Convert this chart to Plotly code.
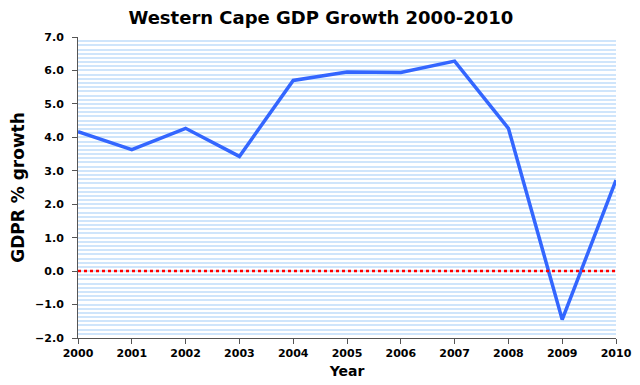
import plotly.graph_objects as go

years = [2000, 2001, 2002, 2003, 2004, 2005, 2006, 2007, 2008, 2009, 2010]
growth = [4.17, 3.63, 4.27, 3.43, 5.70, 5.95, 5.94, 6.28, 4.27, -1.45, 2.72]

font = "DejaVu Sans"

fig = go.Figure()
fig.add_trace(go.Scatter(x=years, y=growth, mode="lines",
                         line=dict(color="#3366ff", width=3.5), showlegend=False, hoverinfo="x+y"))

fig.add_shape(type="line", xref="paper", yref="y", x0=0, x1=1, y0=0, y1=0,
              line=dict(color="#ff0000", width=2.5, dash="dot"))

# page body has an 8px margin, so the figure is sized and offset accordingly
fig.update_layout(
    width=632, height=377,
    margin=dict(l=70, r=24, t=29, b=47, autoexpand=False),
    paper_bgcolor="white", plot_bgcolor="white",
    title=dict(text="<b>Western Cape GDP Growth 2000-2010</b>", x=0.495, xanchor="center",
               xref="container", y=0.992, yref="container", yanchor="top",
               font=dict(family=font, size=18, color="black")),
    font=dict(family=font, color="black"),
)
fig.update_xaxes(range=[2000, 2010], tickmode="linear", tick0=2000, dtick=1, automargin=False,
                 showgrid=False, showline=True, linecolor="#555555", linewidth=1,
                 ticks="outside", ticklen=5, tickcolor="#555555",
                 tickfont=dict(family=font, size=11, color="black", weight="bold"),
                 title=dict(text="<b>Year</b>", font=dict(family=font, size=14), standoff=6),
                 minor=dict(dtick=0.2, showgrid=True, gridcolor="rgba(255,255,255,0.6)", gridwidth=1),
                 zeroline=False)
fig.update_yaxes(range=[-2, 7], tickmode="linear", tick0=-2, dtick=1, tickformat=".1f", automargin=False,
                 showgrid=True, gridcolor="#cfe5fb", gridwidth=2,
                 minor=dict(dtick=0.125, showgrid=True, gridcolor="#cfe5fb", gridwidth=2),
                 showline=True, linecolor="#555555", linewidth=1,
                 ticks="outside", ticklen=5, tickcolor="#555555", ticklabelstandoff=6,
                 tickfont=dict(family=font, size=11, color="black", weight="bold"),
                 title=dict(text="<b>GDPR % growth</b>", font=dict(family=font, size=17), standoff=11),
                 zeroline=False)

fig.write_html("out.html")
